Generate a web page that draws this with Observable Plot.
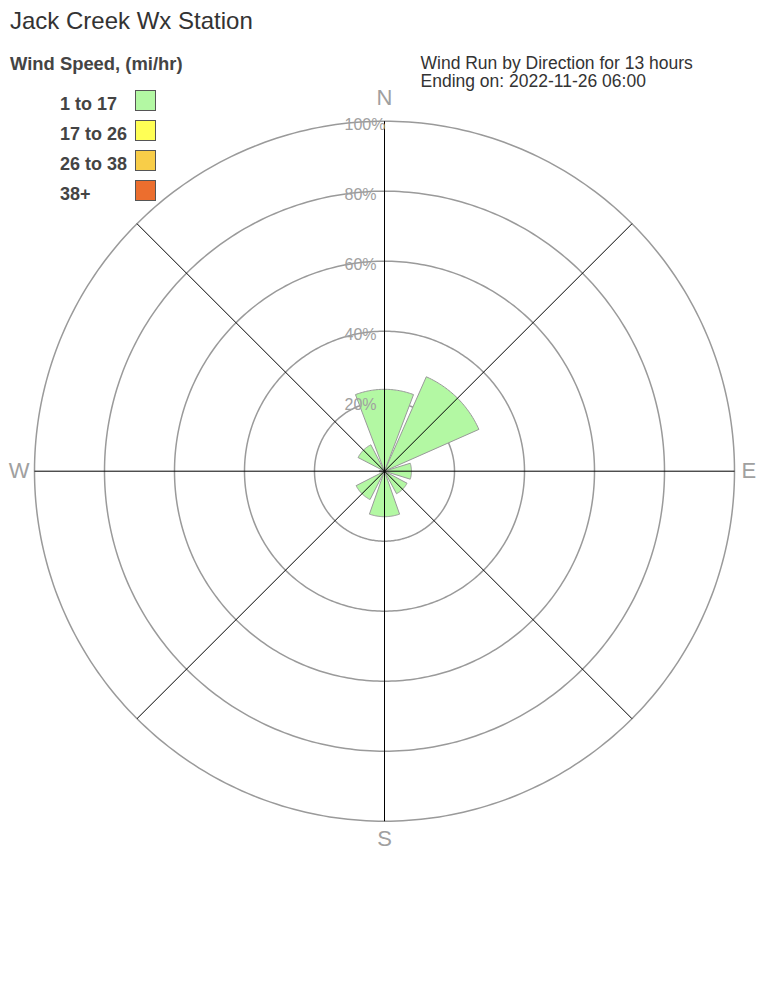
<!DOCTYPE html>
<html>
<head>
<meta charset="utf-8">
<script src="https://cdn.jsdelivr.net/npm/d3@7"></script>
<script src="https://cdn.jsdelivr.net/npm/@observablehq/plot@0.6"></script>
<style>
  html, body { margin: 0; padding: 0; background: #fff; }
  #chart { position: relative; width: 768px; height: 1008px; }
  #chart svg { display: block; }
</style>
</head>
<body>
<div id="chart"></div>
<script>
// ---- data ----
const title = "Jack Creek Wx Station";
const legendTitle = "Wind Speed, (mi/hr)";
const headerLines = ["Wind Run by Direction for 13 hours", "Ending on: 2022-11-26 06:00"];
const directions = ["N", "NE", "E", "SE", "S", "SW", "W", "NW"];
const directionAngles = [0, 45, 90, 135, 180, 225, 270, 315];
const speedBins = ["1 to 17", "17 to 26", "26 to 38", "38+"];
const binColors = ["#b3f8a3", "#ffff55", "#f8cd48", "#ec6e2e"];
// percent of wind run per direction, per speed bin
const run1to17 = [23.4, 29.5, 7.7, 7.3, 13.0, 9.1, 1.5, 8.5];
const run17to26 = [0, 0, 0, 0, 0, 0, 0, 0];
const run26to38 = [0, 0, 0, 0, 0, 0, 0, 0];
const run38plus = [0, 0, 0, 0, 0, 0, 0, 0];
const ringLevels = [20, 40, 60, 80, 100];
const ringLabels = ["20%", "40%", "60%", "80%", "100%"];
const compassLabels = ["N", "E", "S", "W"];
const compassAngles = [0, 90, 180, 270];

// ---- geometry helpers (data units: percent) ----
const deg = Math.PI / 180;
const xRange = [34, 734], yRange = [820.7, 120.7];
const pxPerUnit = (xRange[1] - xRange[0]) / 200;
const polar = (r, a) => ({x: r * Math.sin(a * deg), y: r * Math.cos(a * deg)});

// rings
const ringPts = [];
ringLevels.forEach(level => {
  for (let a = 0; a <= 360; a += 1) ringPts.push({ring: level, ...polar(level, a)});
});

// spokes
const spokes = directionAngles.map(a => ({a, ...polar(100, a)}));

// wedges (stacked speed bins)
const bins = [run1to17, run17to26, run26to38, run38plus];
const wedgePts = [];
directions.forEach((dir, i) => {
  let r0 = 0;
  bins.forEach((vals, b) => {
    const v = vals[i];
    if (!v) return;
    const r1 = r0 + v;
    const c = directionAngles[i];
    const gapPx = 2.5;
    const h = Math.max(8, 22.5 - Math.asin(Math.min(1, gapPx / (r1 * pxPerUnit))) / deg);
    const key = dir + "-" + b;
    const pts = [];
    if (r0 === 0) pts.push({key, bin: speedBins[b], x: 0, y: 0});
    for (let k = 0; k <= 40; k++) {
      const a = c - h + (2 * h) * k / 40;
      pts.push({key, bin: speedBins[b], ...polar(r1, a)});
    }
    if (r0 === 0) pts.push({key, bin: speedBins[b], x: 0, y: 0});
    else {
      for (let k = 40; k >= 0; k--) {
        const a = c - h + (2 * h) * k / 40;
        pts.push({key, bin: speedBins[b], ...polar(r0, a)});
      }
    }
    wedgePts.push(...pts);
    r0 = r1;
  });
});

const ringLabelData = ringLevels.map((lv, i) => ({x: 0, y: lv, label: ringLabels[i]}));
const compassData = compassLabels.map((l, i) => ({label: l, ...polar(100, compassAngles[i])}));

const font = "'Liberation Sans', Arial, Helvetica, sans-serif";

const plot = Plot.plot({
  width: 768,
  height: 1008,
  margin: 0,
  style: {fontFamily: font, background: "#fff"},
  x: {domain: [-100, 100], range: xRange, axis: null},
  y: {domain: [-100, 100], range: yRange, axis: null},
  color: {domain: speedBins, range: binColors},
  marks: [
    Plot.line(ringPts, {x: "x", y: "y", z: "ring", stroke: "#9a9a9a", strokeWidth: 1.5}),
    ...speedBins.map(bin =>
      Plot.line(wedgePts.filter(d => d.bin === bin), {
        x: "x", y: "y", z: "key",
        fill: binColors[speedBins.indexOf(bin)],
        stroke: "#999", strokeWidth: 1
      })
    ),
    Plot.link(spokes, {x1: 0, y1: 0, x2: "x", y2: "y", stroke: "#000", strokeWidth: 1}),
    Plot.text(ringLabelData, {x: "x", y: "y", text: "label", dx: -40, dy: 3.5,
      textAnchor: "start", lineAnchor: "middle", fontSize: 16, fill: "#a0a0a0"}),
    Plot.text(compassData.filter(d => d.label === "N"), {x: "x", y: "y", text: "label",
      dy: -23.4, lineAnchor: "middle", fontSize: 22, fill: "#a0a0a0"}),
    Plot.text(compassData.filter(d => d.label === "S"), {x: "x", y: "y", text: "label",
      dy: 17.6, lineAnchor: "middle", fontSize: 22, fill: "#a0a0a0"}),
    Plot.text(compassData.filter(d => d.label === "E"), {x: "x", y: "y", text: "label",
      dx: 7, textAnchor: "start", lineAnchor: "middle", fontSize: 22, fill: "#a0a0a0"}),
    Plot.text(compassData.filter(d => d.label === "W"), {x: "x", y: "y", text: "label",
      dx: -5, textAnchor: "end", lineAnchor: "middle", fontSize: 22, fill: "#a0a0a0"})
  ]
});

document.getElementById("chart").appendChild(plot);

// ---- title, header, legend ----
const svg = d3.select(plot);
const g = svg.append("g").attr("font-family", font).attr("text-anchor", "start");
g.append("text").attr("x", 10).attr("y", 29).attr("font-size", 24).attr("fill", "#333").text(title);
g.append("text").attr("x", 10).attr("y", 69.5).attr("font-size", 18.4).attr("font-weight", "bold")
  .attr("fill", "#444").text(legendTitle);
headerLines.forEach((t, i) => {
  g.append("text").attr("x", 420.5).attr("y", 68.5 + 18 * i).attr("font-size", 17.5)
    .attr("fill", "#333").text(t);
});
speedBins.forEach((b, i) => {
  g.append("text").attr("x", 60).attr("y", 110 + 30 * i).attr("font-size", 18)
    .attr("font-weight", "bold").attr("fill", "#444").text(b);
  g.append("rect").attr("x", 135.5).attr("y", 90.5 + 30 * i).attr("width", 20).attr("height", 20)
    .attr("fill", binColors[i]).attr("stroke", "#555").attr("stroke-width", 1);
});
</script>
</body>
</html>
